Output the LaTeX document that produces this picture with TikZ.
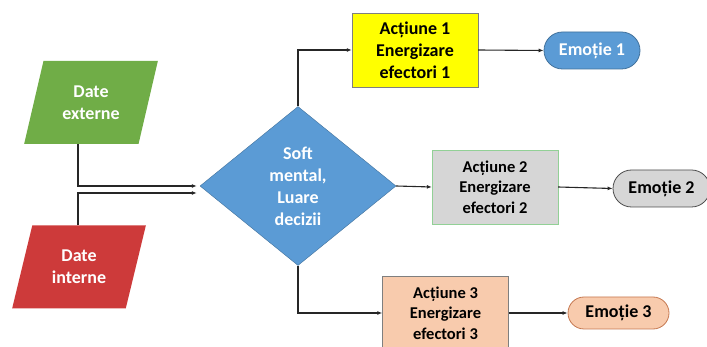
\documentclass[tikz,border=0pt]{standalone}
\usepackage{fontspec}
\setmainfont{Carlito}
\usetikzlibrary{positioning,calc,arrows.meta,shapes.geometric,shapes.misc}
\definecolor{DateGreen}{RGB}{112,173,71}
\definecolor{DateRed}{RGB}{205,58,58}
\definecolor{SoftBlue}{RGB}{91,155,213}
\definecolor{SoftBlueDark}{RGB}{65,113,156}
\definecolor{ActYellow}{RGB}{255,255,0}
\definecolor{ActGray}{RGB}{214,214,214}
\definecolor{ActPeach}{RGB}{248,203,173}
\definecolor{EdgeGray}{RGB}{127,127,127}
\definecolor{EdgeGreen}{RGB}{146,208,150}
\definecolor{EdgePeach}{RGB}{197,120,80}

\begin{document}
\begin{tikzpicture}[
    x=1pt,
    y=-1pt,
    font=\fontsize{18}{22}\selectfont\bfseries,
    datebox/.style={
        trapezium,
        trapezium left angle=71,
        trapezium right angle=109,
        trapezium stretches=true,
        minimum width=134pt,
        minimum height=83pt,
        inner sep=0pt,
        align=center,
        text=white
    },
    decision/.style={
        diamond,
        aspect=1.23,
        minimum width=196pt,
        minimum height=159pt,
        inner sep=0pt,
        align=center,
        fill=SoftBlue,
        draw=SoftBlueDark,
        text=white
    },
    actbox/.style={
        draw,
        minimum width=126pt,
        minimum height=74pt,
        inner sep=0pt,
        align=center
    },
    emobox/.style={
        rounded rectangle,
        draw,
        line width=0.8pt,
        minimum height=37pt,
        inner sep=0pt,
        align=center
    },
    link/.style={
        line width=1.1pt,
        draw=black!85,
        -{Latex[length=5pt,width=4pt]}
    }
]
\useasboundingbox (0,0) rectangle (707,347);

\node[datebox, fill=DateGreen] (dext) at (91,102.5) {Date\\externe};
\node[datebox, fill=DateRed] (dint) at (79,267) {Date\\interne};

\node[decision] (soft) at (298,186) {Soft\\mental,\\Luare\\decizii};

\node[actbox, fill=ActYellow, draw=EdgeGray] (act1) at (415,50) {Acțiune 1\\Energizare\\efectori 1};
\node[actbox, fill=ActGray, draw=EdgeGreen, font=\fontsize{16.5}{20.5}\selectfont\bfseries] (act2) at (495,187) {Acțiune 2\\Energizare\\efectori 2};
\node[actbox, fill=ActPeach, draw=EdgeGray, font=\fontsize{16.5}{20.5}\selectfont\bfseries] (act3) at (445.5,313) {Acțiune 3\\Energizare\\efectori 3};

\node[emobox, fill=SoftBlue, draw=SoftBlueDark, text=white, minimum width=96pt] (emo1) at (592,50.5) {Emoție 1};
\node[emobox, fill=ActGray, draw=black!70, minimum width=97pt] (emo2) at (661.5,188.5) {Emoție 2};
\node[emobox, fill=ActPeach, draw=EdgePeach, minimum width=101pt, minimum height=32pt] (emo3) at (618.5,313) {Emoție 3};

\coordinate (out1) at ($(dext.south)+(-13,0)$);
\coordinate (out2) at (out1 |- dint.north);
\coordinate (in1) at ($(soft.west)+(-3,0)$);
\coordinate (in2) at ($(soft.west)+(-3,7)$);

\draw[link] (out1) |- (in1);
\draw[link] (out2) |- (in2);
\draw[link] (soft.north) |- (act1.west);
\draw[link] (soft.east) -- (act2.west);
\draw[link] (soft.south) |- (act3.west);
\draw[link] (act1.east) -- (emo1.west);
\draw[link] (act2.east) -- (emo2.west);
\draw[link] (act3.east) -- (emo3.west);

\end{tikzpicture}
\end{document}
